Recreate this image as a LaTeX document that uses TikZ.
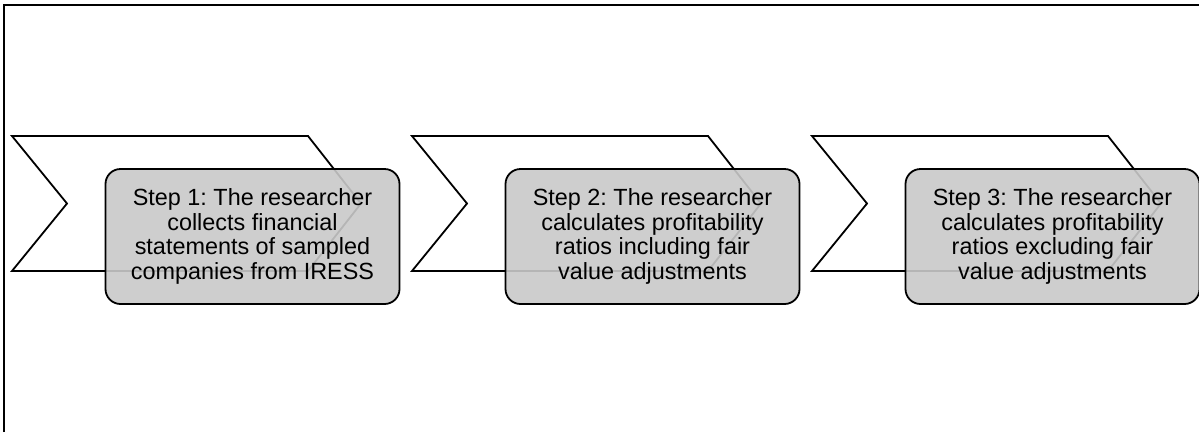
\documentclass[tikz,border=0pt]{standalone}
\usepackage{fontspec}
\setmainfont{Liberation Sans}
\frenchspacing
\begin{document}
\begin{tikzpicture}[x=1pt, y=-1pt,
  chevron/.style={draw, line width=1.8pt, fill=white, line join=miter},
  stepbox/.style={draw, line width=1.8pt, rounded corners=15pt, fill=black!21, fill opacity=0.9, text opacity=1, minimum width=294pt, minimum height=135pt, align=center, inner sep=0pt, font=\fontsize{23.4}{24.5}\selectfont}]
\useasboundingbox (0,0) rectangle (1199,432);
\draw[line width=2pt] (3.5,432) -- (3.5,5) -- (1199,5);
\foreach \dx in {0,400,800}
  \draw[chevron] (12+\dx,136) -- (308+\dx,136) -- (361+\dx,203.5) -- (308+\dx,271) -- (12+\dx,271) -- (67+\dx,203.5) -- cycle;
\node[stepbox] (collect) at (252.5,236.5) {Step 1: The researcher\\ collects financial\\ statements of sampled\\ companies from IRESS};
\node[stepbox] (including) at (652.5,236.5) {Step 2: The researcher\\ calculates profitability\\ ratios including fair\\ value adjustments};
\node[stepbox] (excluding) at (1052.5,236.5) {Step 3: The researcher\\ calculates profitability\\ ratios excluding fair\\ value adjustments};
\end{tikzpicture}
\end{document}
